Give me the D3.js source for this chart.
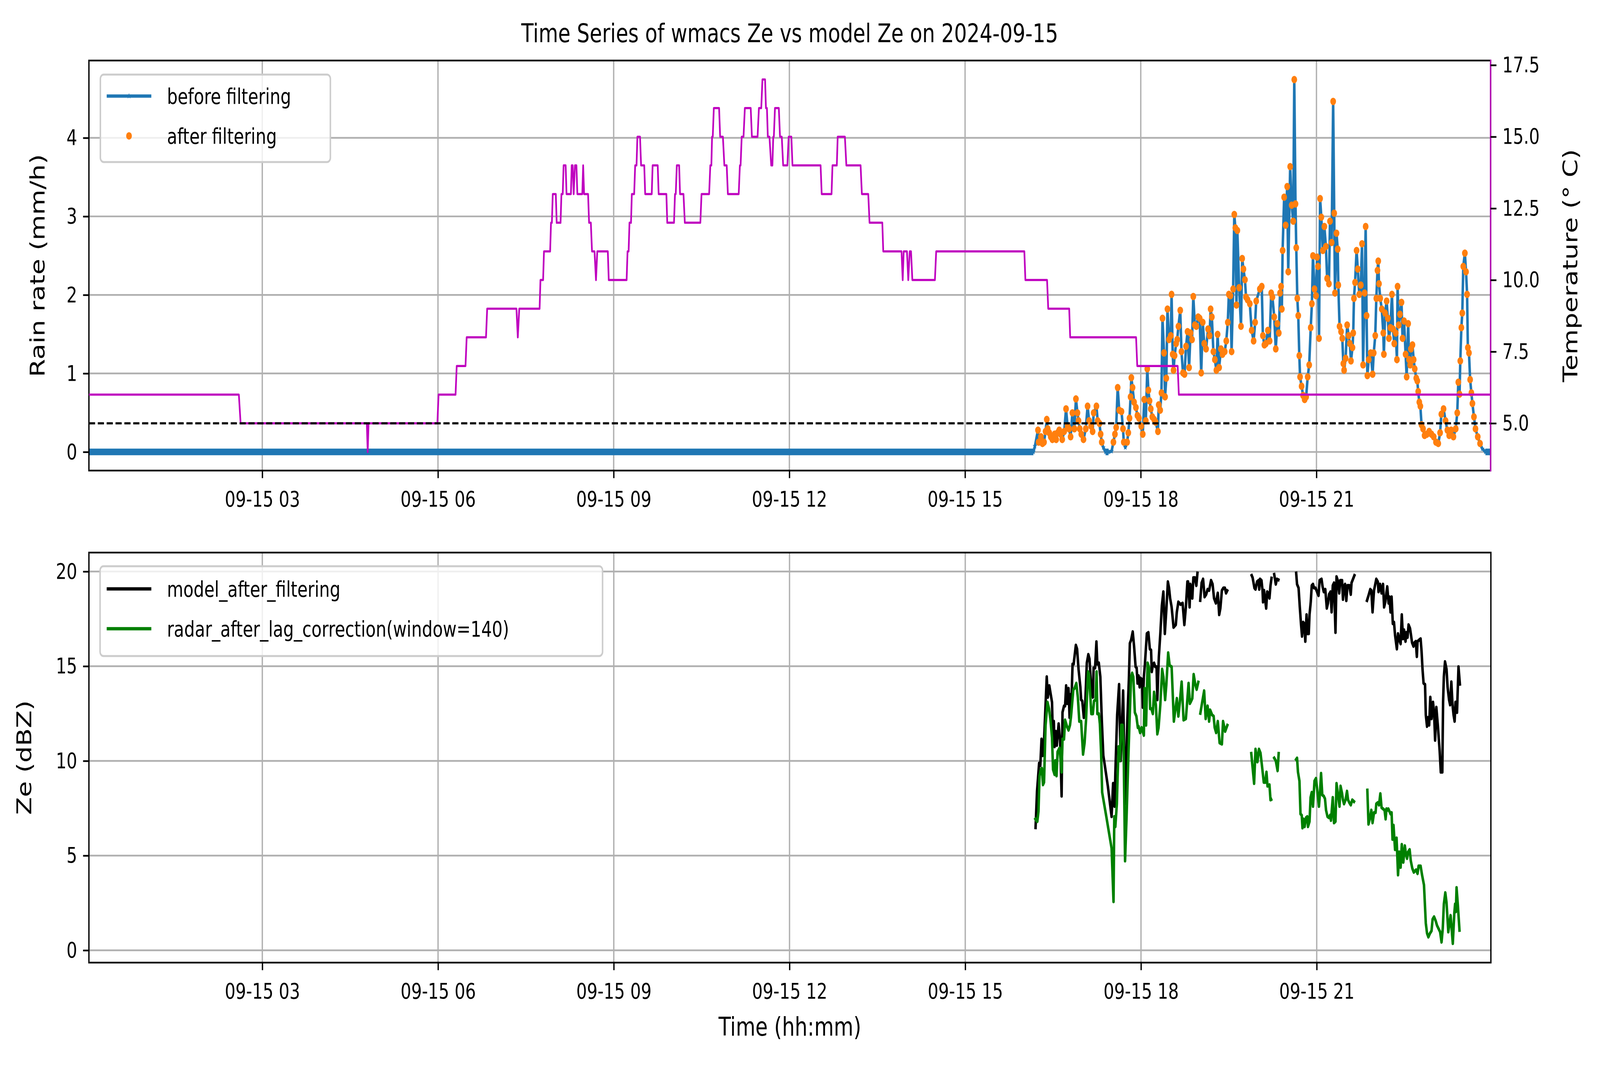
<!DOCTYPE html>
<html><head><meta charset="utf-8">
<script src="https://cdn.jsdelivr.net/npm/d3@7"></script>
<style>html,body{margin:0;padding:0;background:#fff;overflow:hidden} svg{display:block;width:100vw;height:100vh}</style>
</head><body><svg id="c" viewBox="0 0 5308 2740" preserveAspectRatio="none"></svg>
<script>
// ---------------- DATA ----------------
const chartTitle = "Time Series of wmacs Ze vs model Ze on 2024-09-15";
const xTickHours = [3, 6, 9, 12, 15, 18, 21];
const xTickLabels = ["09-15 03", "09-15 06", "09-15 09", "09-15 12", "09-15 15", "09-15 18", "09-15 21"];
const rainTicks = [0, 1, 2, 3, 4];
const tempTicks = [5.0, 7.5, 10.0, 12.5, 15.0, 17.5];
const zeTicks = [0, 5, 10, 15, 20];
const timeDomain = [0.04, 23.973];
const rainDomain = [-0.237, 4.985];
const tempDomain = [3.35, 17.66];
const zeDomain = [-0.65, 21.0];
const filterThreshold = 0.1;   // points kept "after filtering"
const tempRefLine = 5.0;

// [hour, rain rate mm/h] -- before filtering
const rainPoints = [[0.04,0],[16.167,0],[16.193,0.075],[16.245,0.278],[16.257,0.125],[16.296,0.193],[16.322,0.108],[16.348,0.125],[16.374,0.261],[16.395,0.414],[16.411,0.295],[16.437,0.244],[16.463,0.193],[16.491,0.159],[16.530,0.227],[16.556,0.159],[16.582,0.244],[16.608,0.278],[16.633,0.227],[16.659,0.159],[16.693,0.261],[16.724,0.549],[16.750,0.329],[16.776,0.295],[16.802,0.193],[16.833,0.498],[16.867,0.295],[16.893,0.675],[16.919,0.498],[16.937,0.397],[16.958,0.295],[16.984,0.227],[17.022,0.159],[17.061,0.295],[17.092,0.583],[17.118,0.397],[17.152,0.329],[17.178,0.261],[17.196,0.498],[17.243,0.583],[17.264,0.397],[17.295,0.363],[17.315,0.227],[17.334,0.125],[17.360,0.058],[17.398,0],[17.450,0],[17.502,0.01],[17.533,0.125],[17.559,0.227],[17.580,0.312],[17.606,0.820],[17.632,0.532],[17.671,0.515],[17.697,0.295],[17.710,0.125],[17.736,0.058],[17.767,0.125],[17.787,0.244],[17.808,0.431],[17.826,0.702],[17.839,0.946],[17.860,0.820],[17.886,0.634],[17.917,0.566],[17.943,0.464],[17.969,0.431],[18.008,0.329],[18.034,0.227],[18.060,0.668],[18.086,0.397],[18.111,1.058],[18.130,0.786],[18.150,0.651],[18.171,0.549],[18.197,0.447],[18.228,0.414],[18.254,0.380],[18.293,0.261],[18.306,0.600],[18.332,0.532],[18.353,0.753],[18.371,1.702],[18.397,1.261],[18.415,0.702],[18.436,0.939],[18.456,1.820],[18.482,1.431],[18.513,1.481],[18.526,2.007],[18.545,1.244],[18.560,1.041],[18.578,1.227],[18.604,1.380],[18.622,1.431],[18.643,1.600],[18.674,1.803],[18.695,1.278],[18.721,1.007],[18.747,0.990],[18.773,1.346],[18.799,1.532],[18.825,1.075],[18.850,1.515],[18.876,1.431],[18.897,1.980],[18.923,1.617],[18.949,1.600],[18.980,1.719],[19.006,1.702],[19.032,1.007],[19.058,1.651],[19.084,1.380],[19.115,1.312],[19.149,1.566],[19.175,1.481],[19.193,1.820],[19.214,1.719],[19.240,1.278],[19.265,1.176],[19.291,1.041],[19.312,1.498],[19.338,1.075],[19.369,1.312],[19.395,1.244],[19.434,1.278],[19.460,1.414],[19.486,1.651],[19.504,2.007],[19.530,1.990],[19.551,1.278],[19.577,2.075],[19.597,3.024],[19.615,2.854],[19.634,1.871],[19.649,2.820],[19.680,2.092],[19.711,1.600],[19.732,2.464],[19.753,2.329],[19.779,2.193],[19.797,1.973],[19.823,1.939],[19.862,1.888],[19.893,1.549],[19.927,1.414],[19.953,1.651],[19.971,1.922],[20.033,2.075],[20.066,2.108],[20.085,1.481],[20.111,1.363],[20.137,1.380],[20.170,1.549],[20.201,1.414],[20.227,2.024],[20.248,1.973],[20.279,1.719],[20.305,1.312],[20.331,1.634],[20.357,1.515],[20.378,2.024],[20.396,2.108],[20.409,1.820],[20.422,2.566],[20.448,3.244],[20.474,2.888],[20.500,3.380],[20.518,2.295],[20.551,3.634],[20.577,3.142],[20.603,2.939],[20.621,4.742],[20.642,3.159],[20.655,2.600],[20.673,1.956],[20.689,1.736],[20.707,1.227],[20.720,0.956],[20.746,0.837],[20.772,0.719],[20.798,0.668],[20.824,0.702],[20.850,0.956],[20.876,1.108],[20.902,1.583],[20.922,1.888],[20.940,2.498],[20.966,2.075],[20.992,1.990],[21.010,2.481],[21.026,2.363],[21.044,1.447],[21.062,3.227],[21.083,2.990],[21.109,2.566],[21.135,2.871],[21.161,2.617],[21.182,2.210],[21.213,2.142],[21.231,2.939],[21.259,2.668],[21.285,4.464],[21.303,3.041],[21.316,2.024],[21.342,2.786],[21.363,2.583],[21.373,2.125],[21.394,1.600],[21.420,1.532],[21.441,1.447],[21.459,1.125],[21.472,1.041],[21.498,1.193],[21.524,1.617],[21.550,1.481],[21.570,1.380],[21.589,1.159],[21.615,1.329],[21.628,1.515],[21.640,1.956],[21.659,2.159],[21.685,2.566],[21.705,2.329],[21.731,2.007],[21.757,2.125],[21.778,2.651],[21.796,1.108],[21.822,2.024],[21.840,2.871],[21.856,1.736],[21.869,0.973],[21.892,1.176],[21.926,1.261],[21.959,0.990],[21.978,1.261],[22.004,1.481],[22.022,1.956],[22.042,2.312],[22.055,2.431],[22.068,2.142],[22.089,1.956],[22.115,1.820],[22.141,1.515],[22.151,1.244],[22.172,1.769],[22.198,1.922],[22.219,1.702],[22.237,1.447],[22.263,1.583],[22.289,2.007],[22.307,1.566],[22.328,1.380],[22.354,1.515],[22.374,1.176],[22.385,2.108],[22.405,1.617],[22.426,1.753],[22.452,1.905],[22.470,1.447],[22.496,1.668],[22.522,1.244],[22.540,0.956],[22.566,1.634],[22.582,1.176],[22.600,1.108],[22.613,1.312],[22.639,1.363],[22.660,1.176],[22.678,1.058],[22.704,0.939],[22.722,0.905],[22.737,0.769],[22.756,0.634],[22.774,0.583],[22.794,0.346],[22.820,0.295],[22.846,0.210],[22.885,0.227],[22.924,0.261],[22.963,0.227],[23.002,0.193],[23.041,0.125],[23.080,0.108],[23.111,0.244],[23.132,0.481],[23.170,0.549],[23.204,0.397],[23.235,0.278],[23.266,0.210],[23.300,0.278],[23.339,0.193],[23.378,0.295],[23.404,0.498],[23.422,0.888],[23.443,0.736],[23.456,1.159],[23.474,1.583],[23.490,1.769],[23.507,2.363],[23.534,2.532],[23.554,2.295],[23.572,2.007],[23.585,1.329],[23.604,1.261],[23.624,0.922],[23.645,0.753],[23.663,0.617],[23.689,0.447],[23.715,0.295],[23.754,0.193],[23.793,0.108],[23.832,0.041],[23.884,0],[23.973,0]];

// [hour, temperature °C]
const tempPoints = [[0.04,6],[2.60,6],[2.63,5],[4.785,5],[4.80,4],[4.815,5],[5.99,5],[6.01,6],[6.30,6],[6.32,7],[6.47,7],[6.49,8],[6.82,8],[6.84,9],[7.34,9],[7.363,8],[7.388,9],[7.735,9],[7.75,10],[7.795,10],[7.81,11],[7.915,11],[7.93,12],[7.945,12],[7.96,13],[8.012,13],[8.027,12],[8.093,12],[8.108,13],[8.13,13],[8.145,14],[8.18,14],[8.195,13],[8.27,13],[8.283,14],[8.30,14],[8.317,13],[8.339,14],[8.364,14],[8.38,13],[8.464,13],[8.479,14],[8.495,13],[8.563,13],[8.58,12],[8.61,12],[8.63,11],[8.673,11],[8.698,10],[8.72,11],[8.90,11],[8.916,10],[9.221,10],[9.237,11],[9.255,11],[9.27,12],[9.296,12],[9.31,13],[9.35,13],[9.367,14],[9.39,14],[9.405,15],[9.45,15],[9.468,14],[9.522,14],[9.538,13],[9.65,13],[9.665,14],[9.752,14],[9.768,13],[9.90,13],[9.915,12],[10.03,12],[10.047,13],[10.06,13],[10.078,14],[10.118,14],[10.133,13],[10.192,13],[10.215,12],[10.48,12],[10.50,13],[10.63,13],[10.65,14],[10.668,14],[10.68,15],[10.692,15],[10.71,16],[10.80,16],[10.818,15],[10.865,15],[10.89,14],[10.93,14],[10.95,13],[11.135,13],[11.155,14],[11.167,14],[11.186,15],[11.217,15],[11.24,16],[11.34,16],[11.36,15],[11.457,15],[11.48,16],[11.52,16],[11.54,17],[11.585,17],[11.60,16],[11.617,16],[11.632,15],[11.66,15],[11.69,14],[11.71,14],[11.725,15],[11.735,15],[11.754,16],[11.82,16],[11.84,15],[11.87,15],[11.894,14],[11.966,14],[11.988,15],[12.034,15],[12.053,14],[12.533,14],[12.552,13],[12.72,13],[12.736,14],[12.81,14],[12.825,15],[12.948,15],[12.973,14],[13.216,14],[13.238,13],[13.347,13],[13.369,12],[13.587,12],[13.603,11],[13.915,11],[13.935,10],[13.952,11],[14.008,11],[14.03,10],[14.055,11],[14.077,11],[14.10,10],[14.485,10],[14.507,11],[16.012,11],[16.03,10],[16.40,10],[16.42,9],[16.778,9],[16.795,8],[17.92,8],[17.94,7],[18.63,7],[18.65,6],[23.973,6]];

// [hour, Ze dBZ]; null marks a gap
const modelZe = [[16.199,6.39],[16.225,8.40],[16.261,9.88],[16.281,9.75],[16.302,11.15],[16.320,10.28],[16.345,11.09],[16.391,14.44],[16.409,13.36],[16.435,13.97],[16.481,13.10],[16.499,10.82],[16.512,12.09],[16.525,10.75],[16.545,11.56],[16.563,10.82],[16.594,11.96],[16.619,11.09],[16.645,8.14],[16.660,12.56],[16.686,12.90],[16.704,12.90],[16.722,13.97],[16.742,13.03],[16.763,13.83],[16.781,12.29],[16.794,13.50],[16.811,12.96],[16.832,15.11],[16.850,15.11],[16.865,15.51],[16.888,16.11],[16.909,15.91],[16.934,14.84],[16.965,13.90],[16.978,13.23],[16.998,13.16],[17.024,12.29],[17.045,12.76],[17.075,15.17],[17.101,15.62],[17.121,15.38],[17.152,13.77],[17.178,13.36],[17.191,14.91],[17.216,14.91],[17.239,16.29],[17.255,15.11],[17.280,15.17],[17.306,14.44],[17.331,12.16],[17.357,10.28],[17.383,9.75],[17.434,8.67],[17.498,7.06],[17.524,8.81],[17.549,7.60],[17.562,9.34],[17.593,12.43],[17.626,14.04],[17.652,10.01],[17.677,12.02],[17.695,13.70],[17.728,7.73],[17.767,12.16],[17.793,14.30],[17.810,16.21],[17.831,16.38],[17.859,16.82],[17.882,16.05],[17.908,14.97],[17.926,14.91],[17.941,14.10],[17.959,14.50],[17.977,13.90],[17.992,14.37],[18.018,14.30],[18.031,12.83],[18.049,14.44],[18.067,15.11],[18.100,16.72],[18.126,16.78],[18.151,15.91],[18.172,15.85],[18.184,14.71],[18.202,15.04],[18.223,15.17],[18.243,14.97],[18.266,14.97],[18.279,13.23],[18.305,15.51],[18.330,16.72],[18.356,18.19],[18.382,18.93],[18.407,16.72],[18.433,17.99],[18.459,19.46],[18.479,19.13],[18.497,18.59],[18.523,18.12],[18.556,17.05],[18.574,17.12],[18.594,17.19],[18.612,17.86],[18.638,18.39],[18.676,18.26],[18.710,18.33],[18.740,17.19],[18.766,18.12],[18.792,19.46],[18.804,19.46],[18.830,18.12],[18.843,19.33],[18.876,18.59],[18.894,19.67],[18.920,19.67],[18.945,19.26],[18.966,20.00],[18.99,null],[19.009,18.39],[19.035,19.40],[19.060,19.60],[19.086,18.66],[19.112,18.79],[19.137,19.06],[19.163,19.00],[19.196,19.53],[19.222,19.33],[19.247,18.59],[19.278,18.33],[19.311,18.86],[19.335,17.72],[19.355,18.06],[19.381,19.00],[19.406,19.13],[19.432,19.13],[19.452,18.86],[19.483,19.06],[19.6,null],[19.880,19.87],[19.906,19.67],[19.937,19.13],[19.955,19.06],[19.981,19.46],[20.006,19.53],[20.019,19.06],[20.032,19.60],[20.057,19.53],[20.075,19.00],[20.083,18.39],[20.101,19.00],[20.121,18.46],[20.137,18.06],[20.155,18.93],[20.173,18.86],[20.193,18.59],[20.211,19.26],[20.232,19.73],[20.25,null],[20.270,19.93],[20.301,19.33],[20.321,19.60],[20.365,19.53],[20.5,null],[20.647,20.00],[20.664,19.33],[20.690,19.13],[20.711,18.12],[20.731,17.25],[20.749,16.58],[20.769,17.32],[20.787,17.25],[20.805,16.31],[20.826,17.72],[20.844,16.72],[20.864,16.72],[20.877,17.72],[20.898,18.39],[20.915,19.26],[20.936,19.33],[20.954,19.13],[20.980,19.13],[21.005,18.93],[21.031,18.73],[21.049,19.53],[21.082,19.60],[21.100,19.20],[21.120,18.93],[21.146,19.06],[21.172,18.06],[21.192,18.33],[21.210,18.79],[21.236,18.93],[21.254,17.86],[21.274,19.26],[21.295,19.40],[21.320,16.78],[21.338,19.73],[21.359,19.53],[21.384,18.86],[21.402,19.53],[21.433,19.53],[21.448,18.53],[21.466,19.20],[21.484,19.33],[21.505,18.46],[21.525,19.26],[21.556,19.26],[21.581,18.79],[21.594,19.40],[21.653,19.87],[21.75,null],[21.850,18.39],[21.884,18.73],[21.914,19.06],[21.932,19.00],[21.953,17.86],[21.978,19.00],[21.991,19.20],[22.017,19.60],[22.043,19.46],[22.055,18.93],[22.081,19.33],[22.107,18.86],[22.132,19.33],[22.150,18.12],[22.171,18.39],[22.189,18.86],[22.204,19.20],[22.227,18.33],[22.242,18.66],[22.260,17.86],[22.278,18.66],[22.299,17.25],[22.319,17.32],[22.337,16.65],[22.368,15.91],[22.388,16.72],[22.406,16.45],[22.432,16.18],[22.452,17.72],[22.473,16.45],[22.491,16.92],[22.504,16.52],[22.516,16.31],[22.529,16.78],[22.550,16.52],[22.568,17.19],[22.593,16.99],[22.606,16.72],[22.627,16.25],[22.652,16.05],[22.670,16.25],[22.691,16.31],[22.709,15.51],[22.721,16.31],[22.747,16.38],[22.773,16.45],[22.790,15.78],[22.806,14.84],[22.824,14.10],[22.849,14.04],[22.862,12.43],[22.883,11.82],[22.901,12.29],[22.919,11.89],[22.939,13.36],[22.960,12.23],[22.985,13.10],[23.003,12.56],[23.021,11.09],[23.042,12.83],[23.067,11.89],[23.098,10.55],[23.118,9.41],[23.144,9.41],[23.157,13.10],[23.170,14.44],[23.190,15.24],[23.216,14.84],[23.234,13.90],[23.259,13.23],[23.277,12.96],[23.298,14.17],[23.318,12.96],[23.336,12.43],[23.354,12.09],[23.369,13.10],[23.395,12.56],[23.420,14.97],[23.446,13.97]];

const radarZe = [[16.184,7.00],[16.210,6.86],[16.230,6.80],[16.250,7.33],[16.268,9.21],[16.289,9.54],[16.307,9.61],[16.327,8.74],[16.345,8.87],[16.371,11.89],[16.404,13.10],[16.430,12.76],[16.455,12.16],[16.481,11.22],[16.499,9.54],[16.525,9.28],[16.537,10.01],[16.558,9.21],[16.576,10.48],[16.609,10.68],[16.645,9.41],[16.660,11.15],[16.686,11.15],[16.704,12.16],[16.737,11.82],[16.763,11.62],[16.788,11.89],[16.806,12.36],[16.845,13.77],[16.865,13.83],[16.896,14.10],[16.922,13.36],[16.947,12.09],[16.978,12.09],[17.011,10.35],[17.037,10.95],[17.062,12.16],[17.096,14.71],[17.114,14.57],[17.152,12.49],[17.178,12.49],[17.198,13.16],[17.224,13.23],[17.242,14.71],[17.255,12.49],[17.280,12.49],[17.298,11.96],[17.319,10.42],[17.337,8.34],[17.408,7.06],[17.498,5.39],[17.531,2.57],[17.544,7.06],[17.562,6.53],[17.588,7.73],[17.600,9.08],[17.618,10.75],[17.639,10.01],[17.664,11.89],[17.685,11.89],[17.703,10.82],[17.728,4.72],[17.754,7.06],[17.780,9.75],[17.805,12.16],[17.831,14.44],[17.849,14.64],[17.869,14.44],[17.895,12.56],[17.921,12.36],[17.946,11.76],[17.959,11.82],[17.985,11.49],[18.010,11.76],[18.049,11.35],[18.061,13.83],[18.087,11.89],[18.113,15.17],[18.138,14.91],[18.156,12.76],[18.177,12.76],[18.202,12.49],[18.223,13.63],[18.254,12.96],[18.279,11.42],[18.300,11.76],[18.330,12.96],[18.361,14.84],[18.382,14.44],[18.412,13.23],[18.433,14.04],[18.464,15.71],[18.489,15.04],[18.523,14.97],[18.561,12.09],[18.612,13.30],[18.638,12.36],[18.663,13.10],[18.694,14.17],[18.727,12.16],[18.766,12.23],[18.786,13.03],[18.812,14.10],[18.835,13.03],[18.856,13.16],[18.876,13.30],[18.899,14.57],[18.927,14.04],[18.950,13.77],[18.984,14.24],[18.995,null],[19.009,12.43],[19.048,13.16],[19.078,13.70],[19.104,12.23],[19.137,12.90],[19.163,12.09],[19.181,12.69],[19.214,12.43],[19.240,12.36],[19.258,11.76],[19.283,11.49],[19.311,12.09],[19.342,10.95],[19.381,10.89],[19.401,12.09],[19.437,11.56],[19.483,11.96],[19.6,null],[19.880,10.48],[19.931,8.81],[19.955,10.62],[19.988,9.95],[20.014,10.62],[20.040,10.42],[20.065,9.75],[20.096,8.87],[20.121,8.87],[20.142,9.41],[20.160,8.67],[20.193,8.74],[20.211,7.94],[20.242,8.00],[20.25,null],[20.262,10.22],[20.301,10.01],[20.332,9.48],[20.352,10.48],[20.5,null],[20.634,10.01],[20.664,10.15],[20.680,9.41],[20.705,8.94],[20.723,7.20],[20.744,7.13],[20.757,6.46],[20.775,6.93],[20.793,6.53],[20.818,7.00],[20.839,7.06],[20.851,6.53],[20.877,6.80],[20.895,8.07],[20.915,8.34],[20.936,7.60],[20.962,8.94],[20.987,9.08],[21.013,8.34],[21.038,7.60],[21.056,8.34],[21.074,9.34],[21.095,8.20],[21.120,8.14],[21.141,8.00],[21.159,7.40],[21.184,7.06],[21.210,7.00],[21.228,7.13],[21.243,6.86],[21.274,8.07],[21.295,6.73],[21.320,6.80],[21.338,8.81],[21.364,8.20],[21.389,7.60],[21.407,8.67],[21.433,8.27],[21.448,7.94],[21.466,7.73],[21.492,7.94],[21.517,8.40],[21.535,7.94],[21.556,7.80],[21.581,7.67],[21.607,7.94],[21.653,7.80],[21.75,null],[21.863,8.54],[21.884,6.66],[21.914,7.06],[21.932,7.40],[21.953,6.73],[21.978,7.27],[22.004,7.27],[22.017,7.73],[22.043,7.80],[22.063,7.67],[22.086,8.27],[22.107,7.53],[22.132,7.47],[22.158,7.40],[22.176,6.93],[22.191,7.47],[22.209,7.40],[22.222,7.47],[22.242,7.33],[22.260,7.20],[22.278,7.27],[22.294,5.86],[22.311,6.60],[22.337,5.32],[22.363,5.93],[22.388,3.98],[22.409,5.19],[22.432,4.38],[22.452,5.59],[22.478,4.65],[22.504,5.52],[22.524,5.05],[22.542,4.85],[22.560,5.19],[22.586,5.32],[22.606,4.72],[22.632,4.32],[22.657,4.12],[22.696,4.25],[22.721,4.05],[22.739,4.45],[22.773,4.45],[22.798,3.98],[22.831,3.45],[22.862,1.43],[22.883,0.90],[22.906,0.70],[22.934,0.90],[22.960,1.03],[22.978,1.64],[23.003,1.77],[23.029,1.57],[23.055,1.30],[23.106,0.97],[23.131,0.43],[23.152,1.17],[23.170,2.44],[23.195,3.04],[23.216,2.51],[23.246,0.97],[23.285,1.84],[23.323,0.36],[23.349,1.97],[23.362,2.44],[23.375,2.04],[23.387,3.31],[23.408,2.44],[23.439,0.97]];

// ---------------- DRAWING ----------------
const FONT = '"DejaVu Sans", sans-serif';
const TICK_FS = 55.6, LABEL_FS = 66.7;
const LW = 8.33, THIN = 5.56, SPINE = 4.4, TICKLEN = 19.4;
const C = {blue:"#1f77b4", orange:"#ff7f0e", mag:"#bf00bf", green:"#008000", grid:"#b0b0b0"};
const svg = d3.select("#c");
svg.append("rect").attr("width",5308).attr("height",2740).attr("fill","#fff");
const P1 = {l:295, r:4945, t:155, b:1205};
const P2 = {l:295, r:4946, t:1415, b:2465};

const x1 = d3.scaleLinear().domain(timeDomain).range([P1.l, P1.r]);
const x2 = d3.scaleLinear().domain(timeDomain).range([P2.l, P2.r]);
const yRain = d3.scaleLinear().domain(rainDomain).range([P1.b, P1.t]);
const yTemp = d3.scaleLinear().domain(tempDomain).range([P1.b, P1.t]);
const yZe = d3.scaleLinear().domain(zeDomain).range([P2.b, P2.t]);

const defs = svg.append("defs");
[["clip1",P1],["clip2",P2]].forEach(([id,P])=>{
  defs.append("clipPath").attr("id",id).append("rect")
    .attr("x",P.l).attr("y",P.t).attr("width",P.r-P.l).attr("height",P.b-P.t);
});

function styleAxis(g){
  g.attr("font-family",FONT).attr("font-size",TICK_FS);
  g.select(".domain").remove();
  g.selectAll(".tick line").attr("stroke","#000").attr("stroke-width",SPINE);
  g.selectAll(".tick text").attr("fill","#000");
}
function grid(P, x, y, yticks){
  const g = svg.append("g");
  g.selectAll("line.v").data(xTickHours).join("line")
    .attr("x1",d=>x(d)).attr("x2",d=>x(d)).attr("y1",P.t).attr("y2",P.b)
    .attr("stroke",C.grid).attr("stroke-width",SPINE);
  g.selectAll("line.h").data(yticks).join("line")
    .attr("y1",d=>y(d)).attr("y2",d=>y(d)).attr("x1",P.l).attr("x2",P.r)
    .attr("stroke",C.grid).attr("stroke-width",SPINE);
}
function xAxis(P, x){
  svg.append("g").attr("transform",`translate(0,${P.b})`)
    .call(d3.axisBottom(x).tickValues(xTickHours).tickFormat((d,i)=>xTickLabels[i])
      .tickSize(TICKLEN).tickPadding(33).tickSizeOuter(0))
    .call(styleAxis);
}
function yAxisLeft(P, y, ticks, fmt){
  svg.append("g").attr("transform",`translate(${P.l},0)`)
    .call(d3.axisLeft(y).tickValues(ticks).tickFormat(fmt).tickSize(TICKLEN).tickPadding(19.6).tickSizeOuter(0))
    .call(styleAxis);
}

// ===== TOP PANEL =====
grid(P1, x1, yRain, rainTicks);
const L1 = svg.append("g").attr("clip-path","url(#clip1)");
const rainLine = d3.line().x(d=>x1(d[0])).y(d=>yRain(d[1]));
// dense zero-valued stretch (markers packed into a band)
L1.append("path").datum(rainPoints)
  .attr("d", d3.line().defined(d=>d[1]===0).x(d=>x1(d[0])).y(d=>yRain(d[1])))
  .attr("fill","none").attr("stroke",C.blue).attr("stroke-width",17);
L1.append("path").datum(rainPoints).attr("d",rainLine)
  .attr("fill","none").attr("stroke",C.blue).attr("stroke-width",LW).attr("stroke-linejoin","round");
const star = d3.symbol().type(d3.symbolStar).size(72);
L1.selectAll("path.star").data(rainPoints).join("path").attr("class","star")
  .attr("transform",d=>`translate(${x1(d[0])},${yRain(d[1])})`).attr("d",star).attr("fill",C.blue);
const afterPoints = rainPoints.filter(d=>d[1] >= filterThreshold);
L1.selectAll("circle.af").data(afterPoints).join("circle").attr("class","af")
  .attr("cx",d=>x1(d[0])).attr("cy",d=>yRain(d[1])).attr("r",9.5).attr("fill",C.orange);

svg.append("rect").attr("x",P1.l).attr("y",P1.t).attr("width",P1.r-P1.l).attr("height",P1.b-P1.t)
  .attr("fill","none").attr("stroke","#000").attr("stroke-width",SPINE);
xAxis(P1, x1);
yAxisLeft(P1, yRain, rainTicks, d3.format("d"));

function legend(box, rows){
  const g = svg.append("g").attr("font-family",FONT).attr("font-size",TICK_FS);
  g.append("rect").attr("x",box.x).attr("y",box.y).attr("width",box.w).attr("height",box.h)
    .attr("rx",11).attr("fill","#fff").attr("fill-opacity",0.8).attr("stroke","#cccccc").attr("stroke-width",5);
  rows.forEach(r=>{
    if(r.line) g.append("line").attr("x1",354).attr("x2",502).attr("y1",r.y).attr("y2",r.y)
      .attr("stroke",r.color).attr("stroke-width",LW);
    if(r.marker==="star") g.append("path").attr("transform",`translate(428,${r.y})`).attr("d",star).attr("fill",r.color);
    if(r.marker==="dot") g.append("circle").attr("cx",428).attr("cy",r.y).attr("r",9.5).attr("fill",r.color);
    g.append("text").attr("x",554).attr("y",r.y+20).text(r.label).attr("fill","#000");
  });
}
legend({x:333,y:191,w:763,h:224},[
  {y:246,color:C.blue,line:true,marker:"star",label:"before filtering"},
  {y:348,color:C.orange,line:false,marker:"dot",label:"after filtering"}
]);

// twin axis: temperature
const L2 = svg.append("g").attr("clip-path","url(#clip1)");
L2.append("path").datum(tempPoints)
  .attr("d", d3.line().x(d=>x1(d[0])).y(d=>yTemp(d[1])))
  .attr("fill","none").attr("stroke",C.mag).attr("stroke-width",THIN).attr("stroke-linejoin","round");
L2.append("line").attr("x1",P1.l).attr("x2",P1.r).attr("y1",yTemp(tempRefLine)).attr("y2",yTemp(tempRefLine))
  .attr("stroke","#000").attr("stroke-width",THIN).attr("stroke-dasharray","20.5,8.9");
svg.append("line").attr("x1",P1.r).attr("x2",P1.r).attr("y1",P1.t-2.2).attr("y2",P1.b+2.2)
  .attr("stroke",C.mag).attr("stroke-width",SPINE);
svg.append("g").attr("transform",`translate(${P1.r},0)`)
  .call(d3.axisRight(yTemp).tickValues(tempTicks).tickFormat(d3.format(".1f")).tickSize(TICKLEN).tickPadding(19.6).tickSizeOuter(0))
  .call(styleAxis);

svg.append("text").attr("x",(P1.l+P1.r)/2).attr("y",108).attr("text-anchor","middle")
  .attr("font-family",FONT).attr("font-size",LABEL_FS).text(chartTitle);
svg.append("text").attr("transform",`translate(148,${(P1.t+P1.b)/2}) rotate(-90)`).attr("text-anchor","middle")
  .attr("font-family",FONT).attr("font-size",LABEL_FS).text("Rain rate (mm/h)");
svg.append("text").attr("transform",`translate(5233,${(P1.t+P1.b)/2}) rotate(-90)`).attr("text-anchor","middle")
  .attr("font-family",FONT).attr("font-size",LABEL_FS).text("Temperature (° C)");

// ===== BOTTOM PANEL =====
grid(P2, x2, yZe, zeTicks);
const L3 = svg.append("g").attr("clip-path","url(#clip2)");
const zeLine = d3.line().defined(d=>d[1]!==null).x(d=>x2(d[0])).y(d=>yZe(d[1]));
L3.append("path").datum(modelZe).attr("d",zeLine).attr("fill","none").attr("stroke","#000")
  .attr("stroke-width",LW).attr("stroke-linejoin","round");
L3.append("path").datum(radarZe).attr("d",zeLine).attr("fill","none").attr("stroke",C.green)
  .attr("stroke-width",LW).attr("stroke-linejoin","round");
svg.append("rect").attr("x",P2.l).attr("y",P2.t).attr("width",P2.r-P2.l).attr("height",P2.b-P2.t)
  .attr("fill","none").attr("stroke","#000").attr("stroke-width",SPINE);
xAxis(P2, x2);
yAxisLeft(P2, yZe, zeTicks, d3.format("d"));
legend({x:332,y:1450,w:1667,h:230},[
  {y:1508,color:"#000",line:true,label:"model_after_filtering"},
  {y:1610,color:C.green,line:true,label:"radar_after_lag_correction(window=140)"}
]);
svg.append("text").attr("transform",`translate(104,${(P2.t+P2.b)/2}) rotate(-90)`).attr("text-anchor","middle")
  .attr("font-family",FONT).attr("font-size",LABEL_FS).text("Ze (dBZ)");
svg.append("text").attr("x",(P2.l+P2.r)/2).attr("y",2652).attr("text-anchor","middle")
  .attr("font-family",FONT).attr("font-size",LABEL_FS).text("Time (hh:mm)");
</script></body></html>
